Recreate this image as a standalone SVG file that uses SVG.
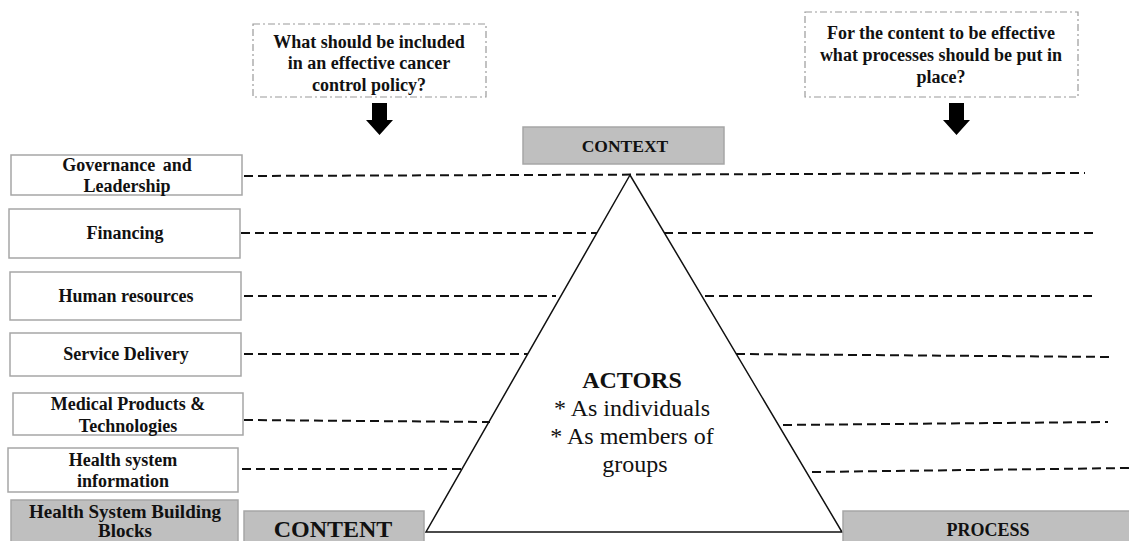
<svg xmlns="http://www.w3.org/2000/svg" width="1129" height="541" viewBox="0 0 1129 541">
<style>
.bx{fill:#fff;stroke:#a6a6a6;stroke-width:1.5}
.gr{fill:#bfbfbf;stroke:#a6a6a6;stroke-width:1.5}
.q{fill:#fff;stroke:#9a9a9a;stroke-width:1.2;stroke-dasharray:7 3 2 3}
.t{font-family:"Liberation Serif","Times New Roman",serif;font-weight:bold;font-size:18px;fill:#111;text-anchor:middle}
.d{fill:none;stroke:#111;stroke-width:2;stroke-dasharray:9 5}
.r{font-family:"Liberation Serif","Times New Roman",serif;font-size:24px;fill:#111;text-anchor:middle}
</style>
<rect width="1129" height="541" fill="#fff"/>
<g id="connectors">
<path class="d" d="M244 176 L1085 173"/>
<path class="d" d="M241 233 L597 233"/>
<path class="d" d="M664 233 L1097 233"/>
<path class="d" d="M244 296 L556 296"/>
<path class="d" d="M705 296 L1097 296"/>
<path class="d" d="M244 354 L528 354"/>
<path class="d" d="M736 354 L1112 357"/>
<path class="d" d="M244 420 L490 422"/>
<path class="d" d="M783 425 L1108 422"/>
<path class="d" d="M242 469 L463 469"/>
<path class="d" d="M812 472 L1129 468"/>
</g>
<g id="triangle">
<polygon points="630,175 426,532 842,532" fill="none" stroke="#111" stroke-width="1.5"/>
<text class="t" x="632" y="388" style="font-size:24px">ACTORS</text>
<text class="r" x="632" y="416">* As individuals</text>
<text class="r" x="632" y="444">* As members of</text>
<text class="r" x="635" y="472">groups</text>
</g>
<g id="q-content">
<rect class="q" x="253" y="24" width="233" height="73"/>
<text class="t" x="369" y="48">What should be included</text>
<text class="t" x="369" y="69">in an effective cancer</text>
<text class="t" x="369" y="91">control policy?</text>
</g>
<g id="q-process">
<rect class="q" x="805" y="12" width="273" height="85"/>
<text class="t" x="941" y="39">For the content to be effective</text>
<text class="t" x="941" y="61">what processes should be put in</text>
<text class="t" x="941" y="83">place?</text>
</g>
<g id="arrow-left"><path d="M372 103 H387 V120 H393 L379.5 135 L366 120 H372 Z" fill="#000"/></g>
<g id="arrow-right"><path d="M949 103 H964 V120 H970 L956.5 135 L943 120 H949 Z" fill="#000"/></g>
<g id="context"><rect class="gr" x="523" y="127" width="201" height="37"/><text class="t" x="625" y="152" style="font-size:17.5px">CONTEXT</text></g>
<g id="governance"><rect class="bx" x="11" y="155" width="231" height="40"/><text class="t" x="127" y="171" style="word-spacing:3px">Governance and</text><text class="t" x="127" y="192">Leadership</text></g>
<g id="financing"><rect class="bx" x="9" y="209" width="231" height="49"/><text class="t" x="125" y="239">Financing</text></g>
<g id="human"><rect class="bx" x="10" y="272" width="231" height="48"/><text class="t" x="126" y="302">Human resources</text></g>
<g id="service"><rect class="bx" x="10" y="333" width="231" height="43"/><text class="t" x="126" y="360">Service Delivery</text></g>
<g id="medical"><rect class="bx" x="13" y="393" width="230" height="42"/><text class="t" x="128" y="410">Medical Products &amp;</text><text class="t" x="128" y="432">Technologies</text></g>
<g id="hsinfo"><rect class="bx" x="8" y="448" width="230" height="44"/><text class="t" x="123" y="466">Health system</text><text class="t" x="123" y="487">information</text></g>
<g id="hsbb"><rect class="gr" x="11" y="500" width="227" height="48"/><text class="t" x="125" y="518" style="font-size:19px">Health System Building</text><text class="t" x="125" y="537" style="font-size:19px">Blocks</text></g>
<g id="content"><rect class="gr" x="244" y="511" width="180" height="37"/><text class="t" x="333" y="537" style="font-size:24px">CONTENT</text></g>
<g id="process"><rect class="gr" x="843" y="511" width="290" height="37"/><text class="t" x="988" y="536">PROCESS</text></g>
</svg>
